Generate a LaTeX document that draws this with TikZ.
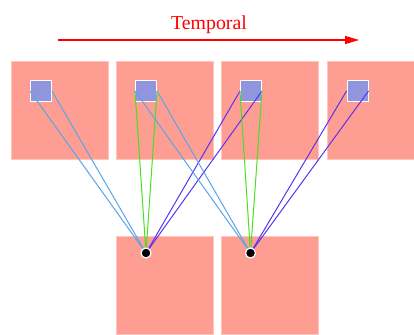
\documentclass[tikz,border=0pt]{standalone}
\usepackage{fontspec}
\setmainfont{Liberation Serif}
\usepackage{tikz}
\usetikzlibrary{positioning,arrows.meta}

\definecolor{framepink}{HTML}{FE9E93}
\definecolor{patchblue}{HTML}{8F96DE}
\definecolor{linkcyan}{HTML}{58A5EA}
\definecolor{linkgreen}{HTML}{45E31F}
\definecolor{linkviolet}{HTML}{5A33F0}

\begin{document}
\begin{tikzpicture}[x=1pt, y=-1pt, node distance=105pt, on grid,
    frame/.style={rectangle, fill=framepink, draw=white!40!framepink, line width=0.6pt,
        minimum width=97pt, minimum height=98pt, inner sep=0pt},
    patch/.style={rectangle, fill=patchblue, draw=white, line width=1pt,
        minimum size=21pt, inner sep=0pt},
    pixel/.style={circle, fill=black, draw=white, line width=1.2pt,
        minimum size=10pt, inner sep=0pt},
    link/.style={line width=1pt}]

    \useasboundingbox (0,0) rectangle (414,334);
    \clip (0,0) rectangle (414,334);

    % temporal axis
    \node[text=red, anchor=base, font=\fontsize{19.8}{22}\selectfont] (title) at (209,30) {Temporal};
    \coordinate (t0) at (58,40);
    \coordinate (t1) at (359,40);
    \draw[red, line width=1.6pt, -{Triangle[length=14pt,width=8pt]}] (t0) -- (t1);

    % frames at time t-1 ... t+2
    \node[frame] (f1) at (59.5,110) {};
    \node[frame] (f2) [right=of f1] {};
    \node[frame] (f3) [right=of f2] {};
    \node[frame] (f4) [right=106pt of f3] {};

    % output frames
    \node[frame] (o1) [below=175pt of f2] {};
    \node[frame] (o2) [below=175pt of f3] {};

    % patches
    \node[patch] (p1) [above left=19pt and 18.5pt of f1] {};
    \node[patch] (p2) [above left=19pt and 18.5pt of f2] {};
    \node[patch] (p3) [above left=19pt and 18.5pt of f3] {};
    \node[patch] (p4) [above left=19pt and 18pt of f4] {};

    \coordinate (q1) at ([xshift=-18.5pt, yshift=32pt]o1.center);
    \coordinate (q2) at ([xshift=-19pt, yshift=32pt]o2.center);

    \path[link]
        (q1) edge[linkcyan] (p1.west)
        (q1) edge[linkcyan] (p1.east)
        (q1) edge[linkgreen] (p2.west)
        (q1) edge[linkgreen] (p2.east)
        (q1) edge[linkviolet] (p3.west)
        (q1) edge[linkviolet] (p3.east)

        (q2) edge[linkcyan] (p2.west)
        (q2) edge[linkcyan] (p2.east)
        (q2) edge[linkgreen] (p3.west)
        (q2) edge[linkgreen] (p3.east)
        (q2) edge[linkviolet] (p4.west)
        (q2) edge[linkviolet] (p4.east);

    \node[pixel] (d1) at (q1) {};
    \node[pixel] (d2) at (q2) {};

\end{tikzpicture}
\end{document}
